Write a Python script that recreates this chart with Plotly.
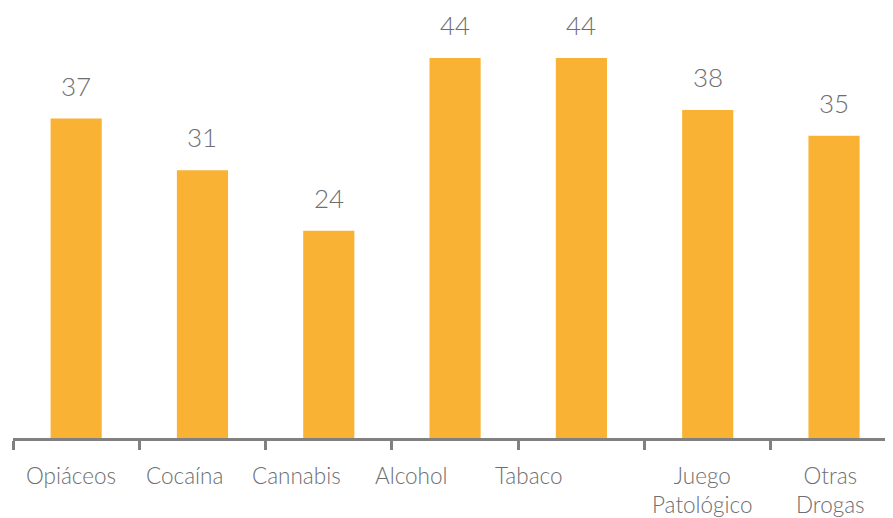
import plotly.graph_objects as go

categories = ["Opiáceos", "Cocaína", "Cannabis", "Alcohol", "Tabaco", "Juego<br>Patológico", "Otras<br>Drogas"]
values = [37, 31, 24, 44, 44, 38, 35]
# horizontal offsets (px) of category labels, as in the original layout
label_shift = [-4.7, -18, -32.3, -43.5, -52.4, -5.7, -4]

BAR = "#F9B233"
TXT = "#6D6E71"
AXIS = "#808080"
FONT = "Lato"

fig = go.Figure(go.Bar(
    x=list(range(len(categories))), y=values,
    marker=dict(color=BAR, line=dict(width=0)),
    width=0.405,
    hoverinfo="skip",
))

annotations = []
for i, (c, v) in enumerate(zip(categories, values)):
    annotations.append(dict(
        x=i, y=v, xref="x", yref="y", text=str(v), showarrow=False,
        yanchor="bottom", yshift=15,
        font=dict(family=FONT, size=26, color=TXT, weight=300),
    ))
    annotations.append(dict(
        x=i, y=0, xref="x", yref="y", text=c, showarrow=False,
        yanchor="top", yshift=-22, xshift=label_shift[i], align="center",
        font=dict(family=FONT, size=22.5, color=TXT, weight=300),
    ))

# the page body has an 8px default margin, so the figure is sized to fit the window;
# the last category runs slightly past the right edge, as in the original
fig.update_layout(
    width=885, height=510,
    margin=dict(l=5, r=0, t=0, b=80),
    paper_bgcolor="white", plot_bgcolor="white",
    showlegend=False,
    annotations=annotations,
    xaxis=dict(
        range=[-0.5, len(categories) - 0.533],
        showticklabels=False, showgrid=False, zeroline=False,
        showline=True, linecolor=AXIS, linewidth=3,
        tickmode="array",
        tickvals=[i - 0.5 for i in range(len(categories) + 1)],
        ticks="outside", ticklen=9, tickwidth=3, tickcolor=AXIS,
    ),
    yaxis=dict(range=[0, 49.8], visible=False),
)

fig.write_html("out.html")
